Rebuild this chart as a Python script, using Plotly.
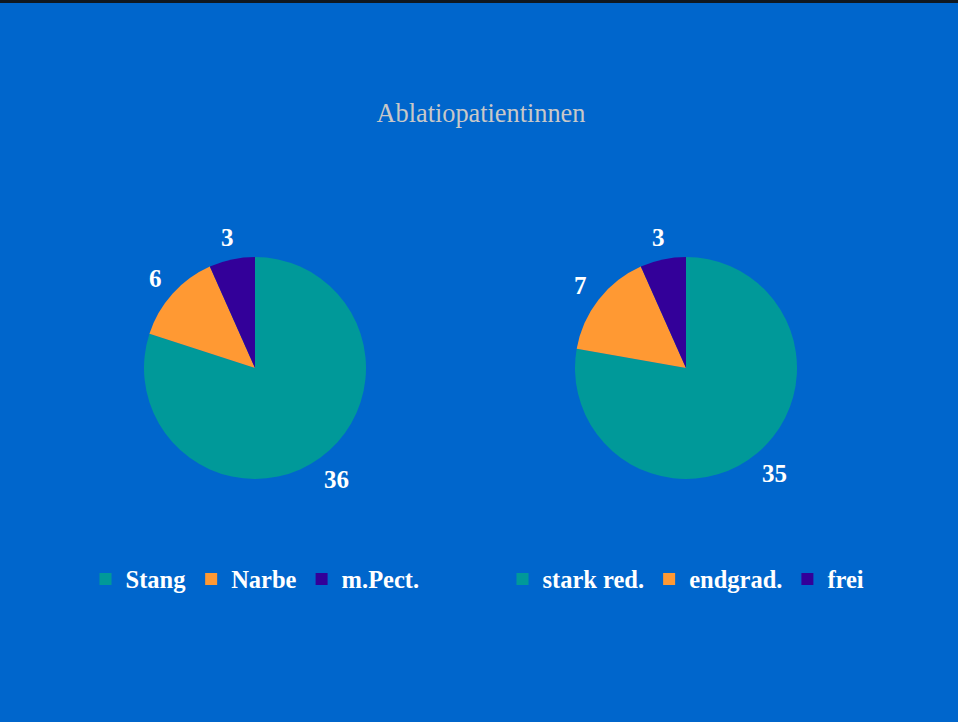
import math
import plotly.graph_objects as go

# Data
title_text = "Ablatiopatientinnen"
labels_left = ["Stang", "Narbe", "m.Pect."]
values_left = [36, 6, 3]
labels_right = ["stark red.", "endgrad.", "frei"]
values_right = [35, 7, 3]
slice_colors = ["#009999", "#FF9933", "#330099"]

W, H = 958, 722
BG = "#0066CC"
SERIF = "Liberation Serif, Times New Roman, serif"

# pie geometry in pixels
PIE_R = 111
PIE_CY = 368
PIE_CX = [255, 686]
LABEL_SIZE = 25


def px_x(v):
    return v / W


def px_y(v):
    return 1 - v / H


fig = go.Figure()

common = dict(
    sort=False,
    direction="clockwise",
    rotation=0,
    textinfo="none",
    marker=dict(colors=slice_colors, line=dict(width=0)),
    hoverinfo="label+value+percent",
)

pies = [(labels_left, values_left, "legend"), (labels_right, values_right, "legend2")]
for cx, (labs, vals, leg) in zip(PIE_CX, pies):
    fig.add_trace(go.Pie(
        labels=labs, values=vals,
        domain=dict(x=[px_x(cx - PIE_R), px_x(cx + PIE_R)],
                    y=[px_y(PIE_CY + PIE_R), px_y(PIE_CY - PIE_R)]),
        legend=leg,
        **common,
    ))

# value labels placed just outside each slice, at the slice's mid angle
annotations = []
for cx, (labs, vals, _) in zip(PIE_CX, pies):
    total = sum(vals)
    start = 0.0
    for v in vals:
        mid = math.radians((start + v / 2) / total * 360)
        start += v
        dx, dy = math.sin(mid), -math.cos(mid)
        txt = str(v)
        half_w = 0.25 * LABEL_SIZE * len(txt)
        half_h = 0.33 * LABEL_SIZE
        d = PIE_R + 13 + abs(dx) * half_w + abs(dy) * half_h
        annotations.append(dict(
            x=px_x(cx + d * dx), y=px_y(PIE_CY + d * dy),
            xref="paper", yref="paper",
            text=txt, showarrow=False,
            xanchor="center", yanchor="middle",
            font=dict(family=SERIF, size=LABEL_SIZE, color="white", weight="bold"),
        ))

legend_style = dict(
    orientation="h",
    yanchor="middle",
    xanchor="center",
    y=px_y(579),
    font=dict(family=SERIF, size=24.5, color="white", weight="bold"),
    bgcolor="rgba(0,0,0,0)",
    itemwidth=30,
    tracegroupgap=0,
)

fig.update_layout(
    width=W, height=H,
    margin=dict(l=0, r=0, t=0, b=0),
    paper_bgcolor=BG,
    plot_bgcolor=BG,
    title=dict(
        text=title_text,
        x=px_x(481), xanchor="center",
        y=px_y(113), yanchor="middle",
        font=dict(family=SERIF, size=26.3, color="#C8C8C8"),
    ),
    showlegend=True,
    legend=dict(x=px_x(PIE_CX[0]), **legend_style),
    legend2=dict(x=px_x(PIE_CX[1]), **legend_style),
    annotations=annotations,
    shapes=[dict(
        type="rect", xref="paper", yref="paper",
        x0=0, x1=1, y0=1 - 3 / H, y1=1,
        fillcolor="#101820", line=dict(width=0), layer="above",
    )],
)

fig.write_html("out.html")
